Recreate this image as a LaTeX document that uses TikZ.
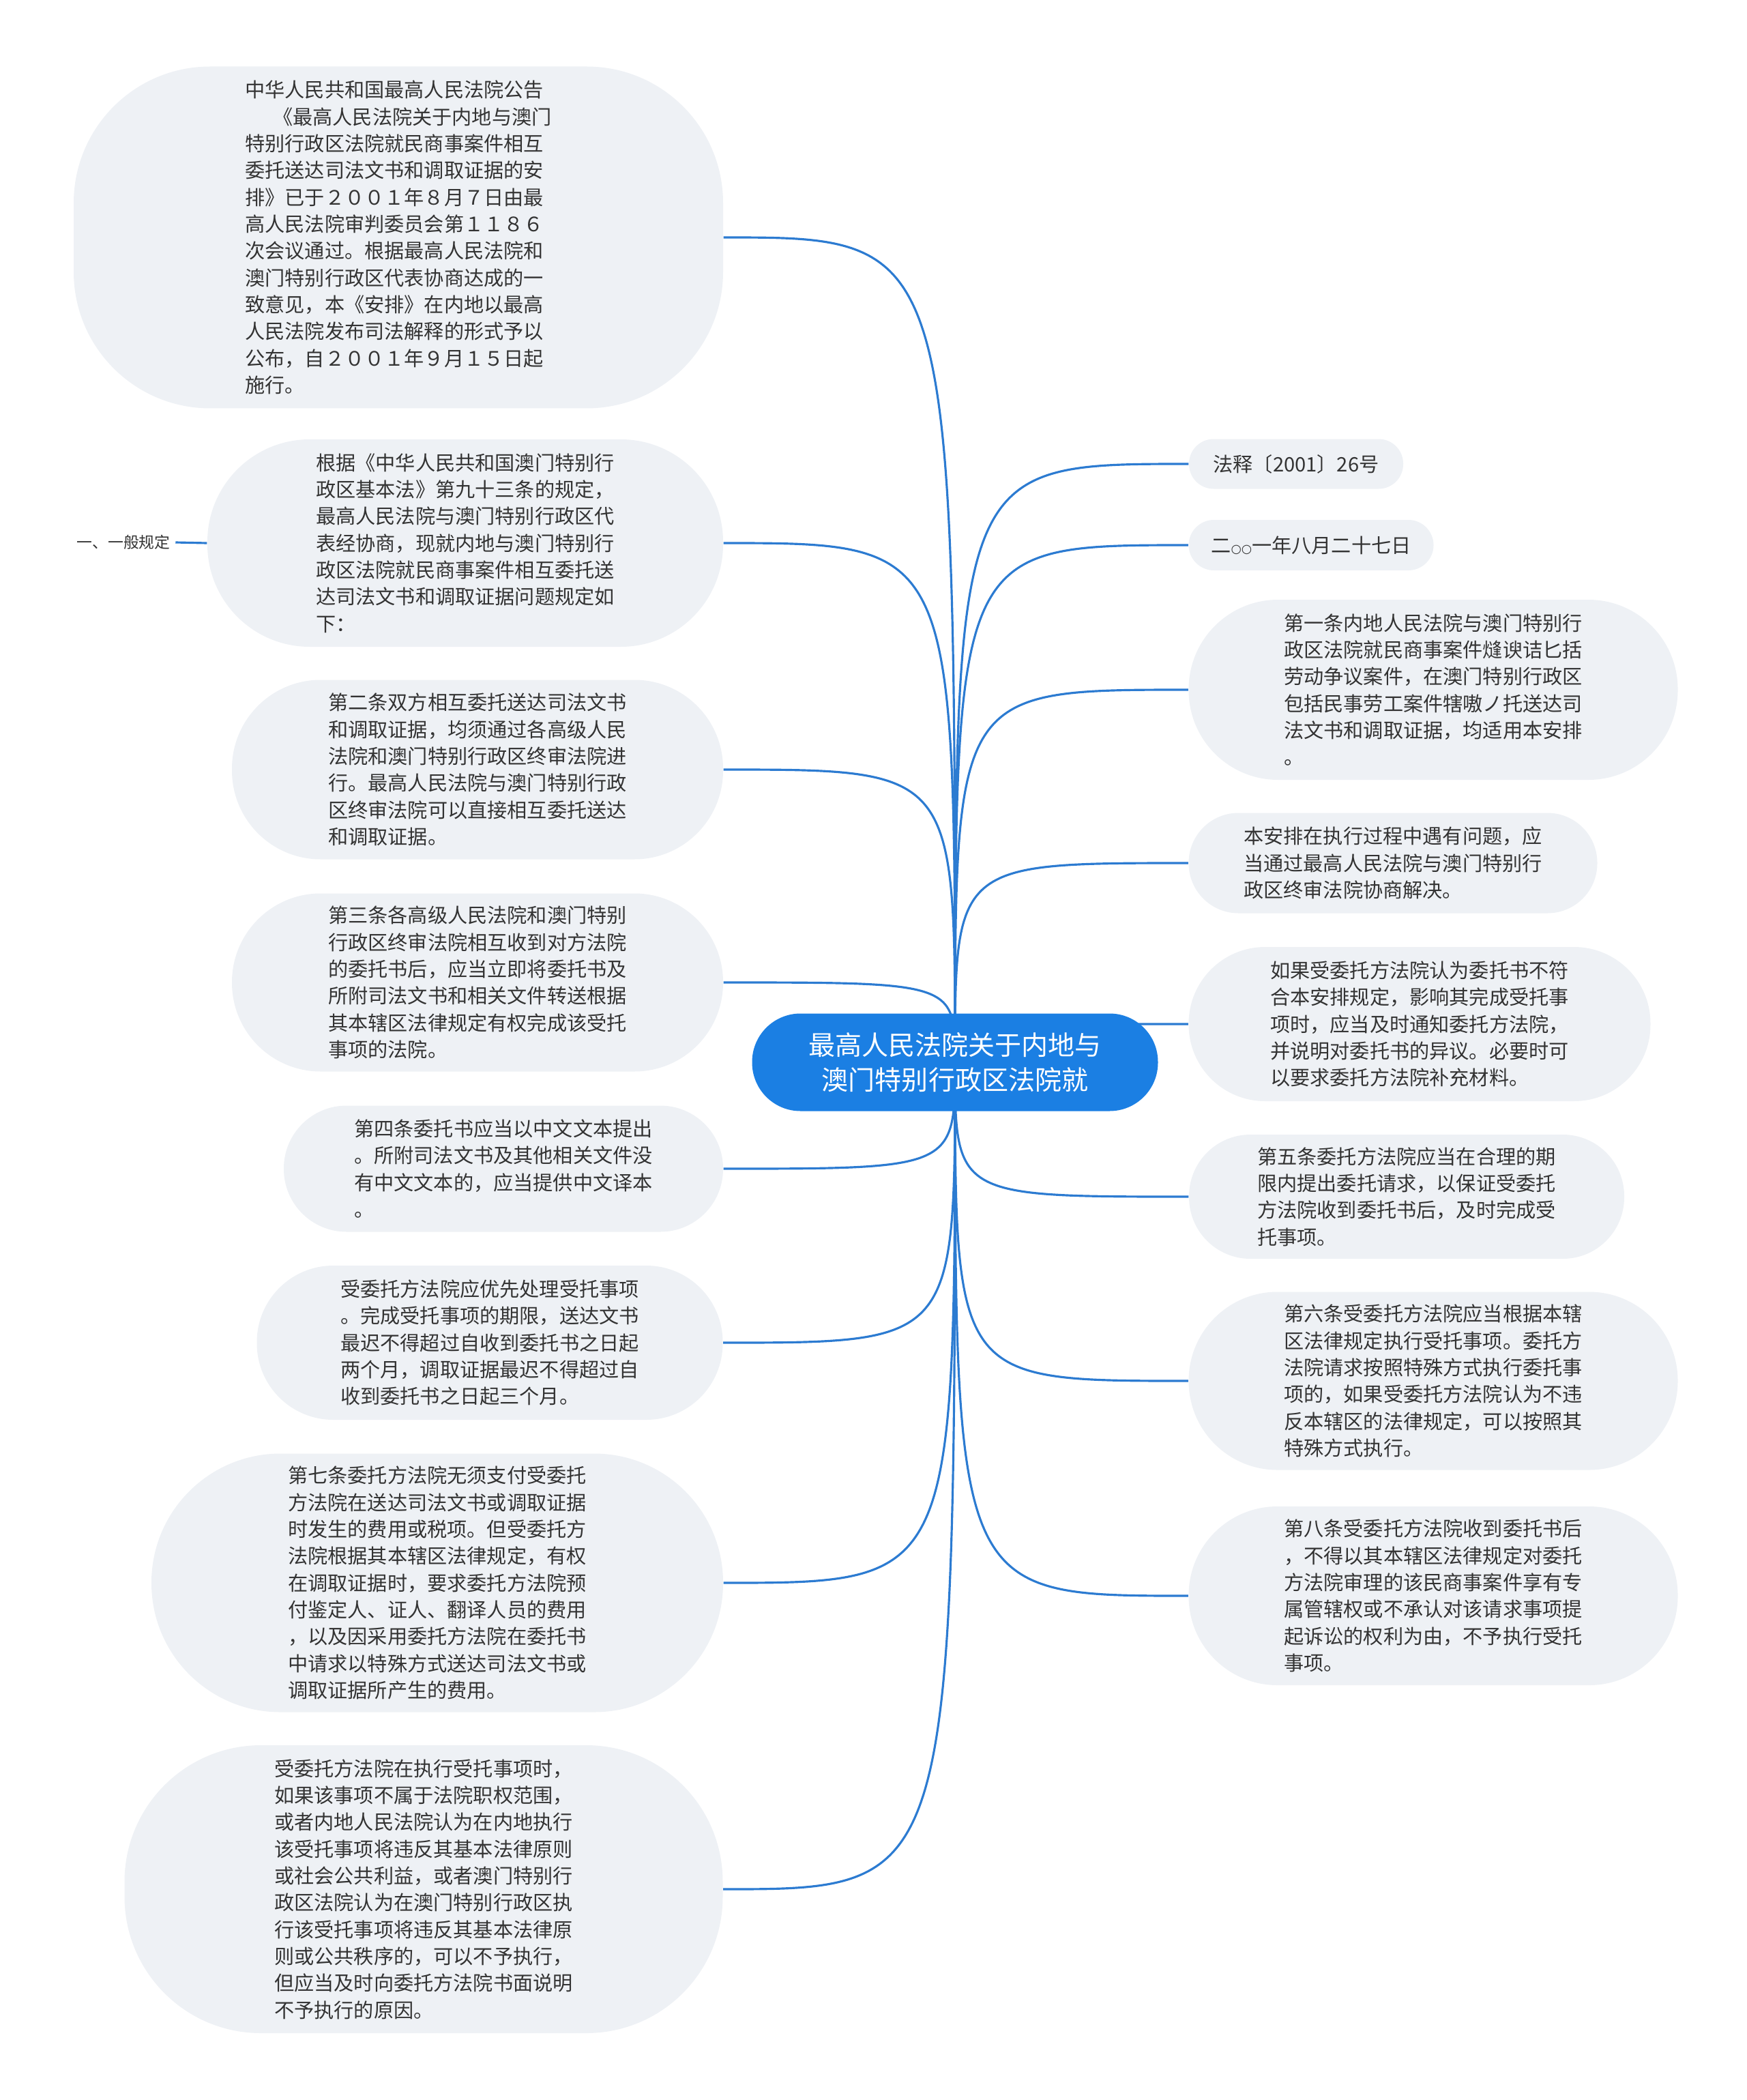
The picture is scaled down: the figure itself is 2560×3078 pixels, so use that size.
\documentclass[tikz,border=0pt]{standalone}
\usepackage{fontspec}
\setmainfont{Noto Sans CJK SC}
\newfontfamily\symfont{DejaVu Sans}
\usetikzlibrary{backgrounds}
\definecolor{RootBlue}{HTML}{1B7FE3}
\definecolor{LineBlue}{HTML}{2C7BD1}
\definecolor{SoftGray}{HTML}{EEF1F5}
\definecolor{TextDark}{HTML}{333333}
\tikzset{
  rootbox/.style={fill=RootBlue, text=white, align=center, inner sep=0pt, font=\fontsize{11.1pt}{14.5pt}\selectfont},
  leafbox/.style={fill=SoftGray, text=TextDark, align=left, inner sep=0pt, font=\fontsize{8.3pt}{11.2pt}\selectfont},
  tagtext/.style={text=TextDark, inner sep=2pt, font=\fontsize{6.5pt}{8pt}\selectfont},
  branch/.style={draw=LineBlue, line width=0.9pt}
}

\begin{document}
\begin{tikzpicture}[x=0.1mm, y=-0.1mm]
\useasboundingbox (0,0) rectangle (2560,3078);

\node[rootbox, minimum width=59.5mm, minimum height=14.3mm, rounded corners=7.1mm] (root) at (1400,1557) {最高人民法院关于内地与\\澳门特别行政区法院就};

\node[leafbox, minimum width=95.2mm, minimum height=50.1mm, rounded corners=20mm] (annc) at (584,348) {中华人民共和国最高人民法院公告\\\hspace*{1.4em}《最高人民法院关于内地与澳门\\特别行政区法院就民商事案件相互\\委托送达司法文书和调取证据的安\\排》已于２００１年８月７日由最\\高人民法院审判委员会第１１８６\\次会议通过。根据最高人民法院和\\澳门特别行政区代表协商达成的一\\致意见，本《安排》在内地以最高\\人民法院发布司法解释的形式予以\\公布，自２００１年９月１５日起\\施行。};
\node[leafbox, minimum width=75.6mm, minimum height=30.4mm, rounded corners=15mm] (basis) at (682,796) {根据《中华人民共和国澳门特别行\\政区基本法》第九十三条的规定，\\最高人民法院与澳门特别行政区代\\表经协商，现就内地与澳门特别行\\政区法院就民商事案件相互委托送\\达司法文书和调取证据问题规定如\\下：};
\node[leafbox, minimum width=72mm, minimum height=26.3mm, rounded corners=13mm] (art2) at (700,1128) {第二条双方相互委托送达司法文书\\和调取证据，均须通过各高级人民\\法院和澳门特别行政区终审法院进\\行。最高人民法院与澳门特别行政\\区终审法院可以直接相互委托送达\\和调取证据。};
\node[leafbox, minimum width=72mm, minimum height=26.1mm, rounded corners=13mm] (art3) at (700,1440) {第三条各高级人民法院和澳门特别\\行政区终审法院相互收到对方法院\\的委托书后，应当立即将委托书及\\所附司法文书和相关文件转送根据\\其本辖区法律规定有权完成该受托\\事项的法院。};
\node[leafbox, minimum width=64.4mm, minimum height=18.5mm, rounded corners=9.2mm] (art4) at (738,1713) {第四条委托书应当以中文文本提出\\。所附司法文书及其他相关文件没\\有中文文本的，应当提供中文译本\\。};
\node[leafbox, minimum width=68.3mm, minimum height=22.6mm, rounded corners=11.2mm] (prio) at (718,1968) {受委托方法院应优先处理受托事项\\。完成受托事项的期限，送达文书\\最迟不得超过自收到委托书之日起\\两个月，调取证据最迟不得超过自\\收到委托书之日起三个月。};
\node[leafbox, minimum width=83.8mm, minimum height=37.9mm, rounded corners=18.9mm] (art7) at (641,2320) {第七条委托方法院无须支付受委托\\方法院在送达司法文书或调取证据\\时发生的费用或税项。但受委托方\\法院根据其本辖区法律规定，有权\\在调取证据时，要求委托方法院预\\付鉴定人、证人、翻译人员的费用\\，以及因采用委托方法院在委托书\\中请求以特殊方式送达司法文书或\\调取证据所产生的费用。};
\node[leafbox, minimum width=87.7mm, minimum height=42.2mm, rounded corners=20mm] (refuse) at (621,2769) {受委托方法院在执行受托事项时，\\如果该事项不属于法院职权范围，\\或者内地人民法院认为在内地执行\\该受托事项将违反其基本法律原则\\或社会公共利益，或者澳门特别行\\政区法院认为在澳门特别行政区执\\行该受托事项将违反其基本法律原\\则或公共秩序的，可以不予执行，\\但应当及时向委托方法院书面说明\\不予执行的原因。};

\node[tagtext] (general) at (181,795) {一、一般规定};

\node[leafbox, minimum width=31.4mm, minimum height=7.3mm, rounded corners=3.6mm] (docno) at (1900,680) {法释〔2001〕26号};
\node[leafbox, minimum width=35.9mm, minimum height=7.4mm, rounded corners=3.7mm] (date) at (1922,799) {二{\symfont\fontsize{5pt}{5pt}\selectfont ○○}一年八月二十七日};
\node[leafbox, minimum width=71.7mm, minimum height=26.4mm, rounded corners=13.1mm] (art1) at (2101,1011) {第一条内地人民法院与澳门特别行\\政区法院就民商事案件熢谀诘匕括\\劳动争议案件，在澳门特别行政区\\包括民事劳工案件犗嗷ノ托送达司\\法文书和调取证据，均适用本安排\\。};
\node[leafbox, minimum width=59.9mm, minimum height=14.7mm, rounded corners=7.3mm] (issue) at (2042,1265) {本安排在执行过程中遇有问题，应\\当通过最高人民法院与澳门特别行\\政区终审法院协商解决。};
\node[leafbox, minimum width=67.7mm, minimum height=22.6mm, rounded corners=11.2mm] (objection) at (2081,1501) {如果受委托方法院认为委托书不符\\合本安排规定，影响其完成受托事\\项时，应当及时通知委托方法院，\\并说明对委托书的异议。必要时可\\以要求委托方法院补充材料。};
\node[leafbox, minimum width=63.8mm, minimum height=18.2mm, rounded corners=9mm] (art5) at (2062,1754) {第五条委托方法院应当在合理的期\\限内提出委托请求，以保证受委托\\方法院收到委托书后，及时完成受\\托事项。};
\node[leafbox, minimum width=71.7mm, minimum height=26.1mm, rounded corners=13mm] (art6) at (2101,2024) {第六条受委托方法院应当根据本辖\\区法律规定执行受托事项。委托方\\法院请求按照特殊方式执行委托事\\项的，如果受委托方法院认为不违\\反本辖区的法律规定，可以按照其\\特殊方式执行。};
\node[leafbox, minimum width=71.7mm, minimum height=26.2mm, rounded corners=13mm] (art8) at (2101,2339) {第八条受委托方法院收到委托书后\\，不得以其本辖区法律规定对委托\\方法院审理的该民商事案件享有专\\属管辖权或不承认对该请求事项提\\起诉讼的权利为由，不予执行受托\\事项。};

\begin{scope}[on background layer]
\foreach \n in {annc, basis, art2, art3, art4, prio, art7, refuse}
  \draw[branch] (root.center) .. controls (root.center |- \n.east) .. (\n.east);
\foreach \n in {docno, date, art1, issue, objection, art5, art6, art8}
  \draw[branch] (root.center) .. controls (root.center |- \n.west) .. (\n.west);
\end{scope}
\draw[branch] (basis.west) -- (general.east);
\end{tikzpicture}
\end{document}
